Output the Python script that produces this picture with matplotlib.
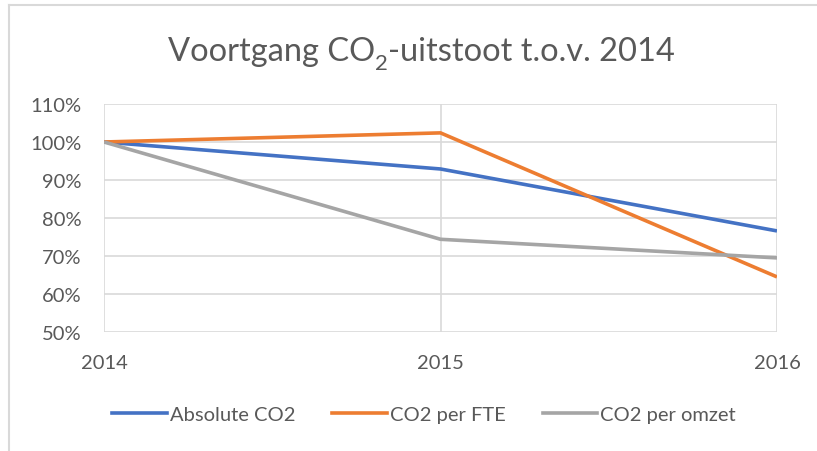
import matplotlib
matplotlib.use('Agg')
import matplotlib.pyplot as plt
from matplotlib.lines import Line2D
from matplotlib.ticker import FuncFormatter

plt.rcParams['font.family'] = ['Lato', 'DejaVu Sans']

TEXT_COLOR = '#595959'
GRID_COLOR = '#D9D9D9'

years = ['2014', '2015', '2016']
absolute_co2 = [100.0, 92.9, 76.6]
co2_per_fte = [100.0, 102.4, 64.5]
co2_per_omzet = [100.0, 74.4, 69.5]

series_names = ['Absolute CO2', 'CO2 per FTE', 'CO2 per omzet']
series_colors = ['#4472C4', '#ED7D31', '#A5A5A5']
y_ticks = [50, 60, 70, 80, 90, 100, 110]

W, H = 817, 452
fig = plt.figure(figsize=(W / 100, H / 100), dpi=100)
ax = fig.add_axes([104 / W, 1 - 333 / H, 673 / W, 228 / H])

x = list(range(len(years)))
for values, name, color in zip([absolute_co2, co2_per_fte, co2_per_omzet],
                               series_names, series_colors):
    ax.plot(x, values, color=color, lw=2.6, label=name,
            solid_joinstyle='round', solid_capstyle='butt', zorder=3)

ax.set_xlim(0, len(years) - 1)
ax.set_ylim(50, 110)
ax.set_xticks(x)
ax.set_xticklabels(years)
ax.set_yticks(y_ticks)
ax.yaxis.set_major_formatter(FuncFormatter(lambda v, p: f'{v:.0f}%'))

ax.grid(True, color=GRID_COLOR, lw=1.2, zorder=0)
for side in ['top', 'right', 'bottom', 'left']:
    ax.spines[side].set_visible(False)
ax.tick_params(length=0, labelsize=14.5, colors=TEXT_COLOR)
ax.tick_params(axis='x', pad=16)
ax.tick_params(axis='y', pad=16)

# title with a real subscript: three pieces laid out on one baseline
renderer = fig.canvas.get_renderer()
pieces = [('Voortgang CO', 23.5, 0), ('2', 16, -9), ('-uitstoot t.o.v. 2014', 23.5, 0)]
texts = []
for s, size, dy in pieces:
    t = fig.text(0, 0, s, fontsize=size, color=TEXT_COLOR, ha='left', va='baseline')
    texts.append((t, dy))
widths = [t.get_window_extent(renderer).width for t, _ in texts]
x0 = 421.5 - sum(widths) / 2
baseline = H - 61
for (t, dy), w in zip(texts, widths):
    t.set_position((x0 / W, (baseline + dy) / H))
    x0 += w

handles = [Line2D([], [], color=c, lw=2.6) for c in series_colors]
fig.legend(handles, series_names, loc='center', bbox_to_anchor=(424 / W, 1 - 415 / H),
           ncol=3, frameon=False, fontsize=14.5, handlelength=2.7, handletextpad=0.15,
           columnspacing=1.85, labelcolor=TEXT_COLOR)

# chart border (only top and left visible in the crop)
fig.add_artist(Line2D([9 / W, 9 / W], [0, 1 - 6 / H], color=GRID_COLOR, lw=1.5))
fig.add_artist(Line2D([9 / W, 1], [1 - 6 / H, 1 - 6 / H], color=GRID_COLOR, lw=1.5))

fig.savefig('out.png', dpi=100)
